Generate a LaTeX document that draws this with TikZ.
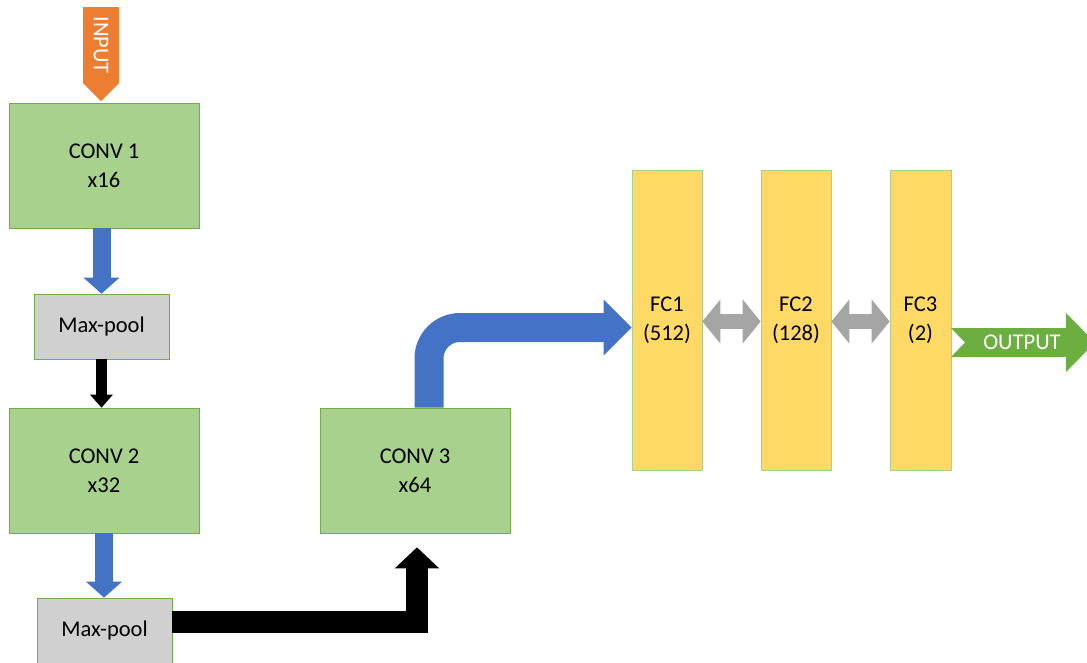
\documentclass[tikz,border=0pt]{standalone}
\usepackage{fontspec}
\setmainfont{Carlito}
\usetikzlibrary{arrows.meta,calc}
\definecolor{cgreen}{HTML}{A9D18E}
\definecolor{cgreenb}{HTML}{70AD47}
\definecolor{cgray}{HTML}{D0D0D0}
\definecolor{cyellow}{HTML}{FFD966}
\definecolor{cblue}{HTML}{4472C4}
\definecolor{carrgray}{HTML}{A5A5A5}
\definecolor{corange}{HTML}{ED7D31}
\definecolor{cout}{HTML}{6CAE3F}
\begin{document}
\begin{tikzpicture}[x=1pt,y=-1pt,
  txt/.style={font=\fontsize{22.5}{29}\selectfont, align=center, inner sep=0pt},
  convbox/.style={txt, draw=cgreenb, line width=0.6pt, fill=cgreen, minimum width=190pt, minimum height=125pt},
  poolbox/.style={txt, draw=cgreenb, line width=0.6pt, fill=cgray, minimum width=135pt, minimum height=65pt},
  fcbox/.style={txt, draw=cgreen, line width=0.6pt, fill=cyellow, minimum height=300pt},
  bluearr/.style={cblue, line width=18pt, -{Triangle[length=16pt,width=35pt]}},
  blackarr/.style={black, line width=11pt, -{Triangle[length=13pt,width=22pt]}},
  grayarr/.style={carrgray, line width=15pt, {Triangle[length=18pt,width=43pt]}-{Triangle[length=18pt,width=43pt]}}
]
\useasboundingbox (0,0) rectangle (1087,662);
% boxes
\node[convbox] (c1) at (104,165.5) {CONV 1\\x16};
\node[poolbox] (mp1) at (101.5,326.5) {Max-pool};
\node[convbox] (c2) at (104,470.5) {CONV 2\\x32};
\node[poolbox] (mp2) at (104.5,630.5) {Max-pool};
\node[convbox] (c3) at (415,470.5) {CONV 3\\x64};
\node[fcbox, minimum width=70pt] (fc1) at (667,320) {FC1\\(512)};
\node[fcbox, minimum width=70pt] (fc2) at (796,320) {FC2\\(128)};
\node[fcbox, minimum width=61pt] (fc3) at (920.5,320) {FC3\\(2)};
% input arrow
\fill[corange] (83,7) -- (119,7) -- (119,83) -- (101,101) -- (83,83) -- cycle;
\node[txt, text=white, rotate=-90] (inp) at (101,45) {INPUT};
% output arrow
\fill[cout] (951,328) -- (1066,328) -- (1066,313) -- (1095,342.5) -- (1066,372) -- (1066,357) -- (951,357) -- (965,342.5) -- cycle;
\node[txt, text=white] (outp) at (1022,342.5) {OUTPUT};
% vertical arrows
\draw[bluearr] (mp1.north |- c1.south) -- (mp1.north);
\draw[blackarr] (mp1.south) -- (mp1.south |- c2.north);
\draw[bluearr] (c2.south) -- (c2.south |- mp2.north);
% bent black arrow
\coordinate (bs) at ($(mp2.east)+(0,-8.5)$);
\coordinate (be) at ($(c3.south)+(2,14)$);
\draw[black, line width=22pt, line join=miter, -{Triangle[length=21pt,width=43pt]}] (bs) -| (be);
% bent blue arrow
\coordinate (us) at ($(c3.north)+(14,0)$);
\coordinate (ue) at ($(fc1.west)+(0,7.5)$);
\draw[cblue, line width=29pt, rounded corners=31pt, -{Triangle[length=28pt,width=54pt]}] (us) |- (ue);
% gray double arrows
\draw[grayarr] ($(fc1.east)+(0,1.5)$) -- ($(fc2.west)+(0,1.5)$);
\draw[grayarr] ($(fc2.east)+(0,1.5)$) -- ($(fc3.west)+(0,1.5)$);
\end{tikzpicture}
\end{document}
